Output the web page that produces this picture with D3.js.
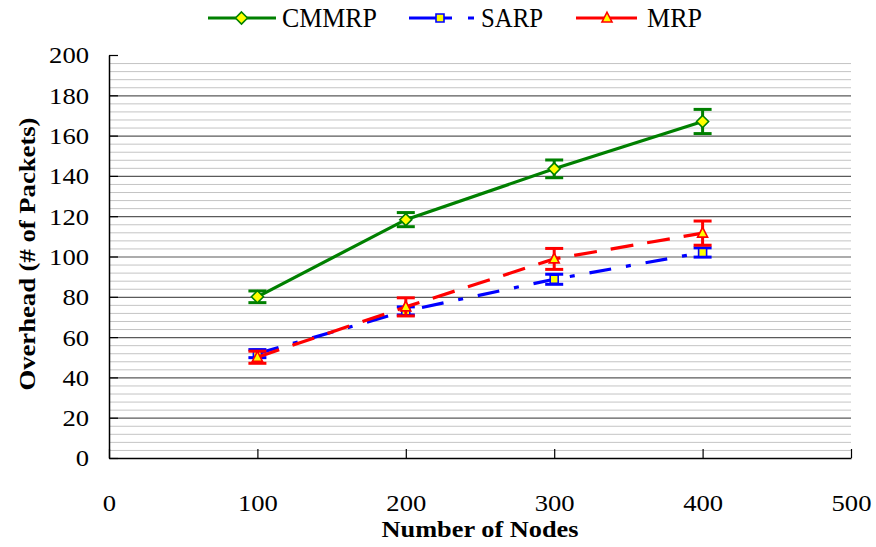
<!DOCTYPE html>
<html>
<head>
<meta charset="utf-8">
<script src="https://cdn.jsdelivr.net/npm/d3@7"></script>
<style>
  html, body { margin: 0; padding: 0; background: #fff; }
  svg { display: block; }
  text { font-family: "Liberation Serif", "Times New Roman", serif; fill: #000; }
</style>
</head>
<body>
<svg id="chart" width="876" height="547"></svg>
<script>
// Overhead vs. number of nodes for three routing protocols
const nodes = [100, 200, 300, 400];
const xTickValues = [0, 100, 200, 300, 400, 500];
const yTickValues = [0, 20, 40, 60, 80, 100, 120, 140, 160, 180, 200];
const yMinorValues = d3.range(0, 200, 4);

const cmmrp    = [80, 118.3, 143.5, 167];
const cmmrpErr = [2.9, 3.5, 4.4, 6];
const sarp     = [51.8, 73, 88.7, 102];
const sarpErr  = [2, 2, 2.5, 2.3];
const mrp      = [50, 75, 98.8, 111.6];
const mrpErr   = [3, 4.5, 5.2, 6];

const seriesNames = ["CMMRP", "SARP", "MRP"];

const svg = d3.select("#chart");
const x = d3.scaleLinear().domain([0, 500]).range([109, 851]);
const y = d3.scaleLinear().domain([0, 200]).range([458, 55]);

// minor grid
svg.append("g").selectAll("line")
  .data(yMinorValues.filter(v => v % 20 !== 0))
  .join("line")
  .attr("x1", x(0)).attr("x2", x(500))
  .attr("y1", d => y(d) + 0.5).attr("y2", d => y(d) + 0.5)
  .attr("stroke", "#c4c4c4").attr("stroke-width", 1);

// major grid
svg.append("g").selectAll("line")
  .data(yTickValues.filter(v => v > 0 && v < 200))
  .join("line")
  .attr("x1", x(0)).attr("x2", x(500))
  .attr("y1", d => y(d) + 0.5).attr("y2", d => y(d) + 0.5)
  .attr("stroke", "#5a5a5a").attr("stroke-width", 1.2);

// axes
const yAxis = d3.axisLeft(y).tickValues(yTickValues).tickSizeInner(-9).tickSizeOuter(0).tickPadding(20);
const yG = svg.append("g").attr("transform", `translate(${x(0)},0)`).call(yAxis);
yG.selectAll("path.domain").attr("stroke", "#000").attr("stroke-width", 1.5);
yG.selectAll(".tick line").attr("stroke", "#000").attr("stroke-width", 1.2);
yG.selectAll(".tick text")
  .attr("font-family", "Liberation Serif").attr("font-size", 24)
  .attr("dy", "0.33em")
  .attr("textLength", d => String(d).length * 13.3)
  .attr("lengthAdjust", "spacingAndGlyphs")
  .attr("fill", "#000");

const xAxis = d3.axisBottom(x).tickValues(xTickValues).tickSizeInner(-9).tickSizeOuter(0);
const xG = svg.append("g").attr("transform", `translate(0,${y(0)})`).call(xAxis);
xG.selectAll("path.domain").attr("stroke", "#000").attr("stroke-width", 1.5);
xG.selectAll(".tick line").attr("stroke", "#000").attr("stroke-width", 1.2);
xG.selectAll(".tick text")
  .attr("font-family", "Liberation Serif").attr("font-size", 24)
  .attr("y", 53).attr("dy", 0)
  .attr("textLength", d => String(d).length * 13.3)
  .attr("lengthAdjust", "spacingAndGlyphs")
  .attr("fill", "#000");

// axis titles
svg.append("text")
  .attr("x", 480).attr("y", 537)
  .attr("text-anchor", "middle")
  .attr("font-size", 23).attr("font-weight", "bold")
  .attr("textLength", 197).attr("lengthAdjust", "spacingAndGlyphs")
  .text("Number of Nodes");

svg.append("text")
  .attr("transform", "translate(35,254) rotate(-90)")
  .attr("text-anchor", "middle")
  .attr("font-size", 24).attr("font-weight", "bold")
  .attr("textLength", 273).attr("lengthAdjust", "spacingAndGlyphs")
  .text("Overhead (# of Packets)");

// marker shapes
function diamondPath(r) { return `M0,${-r}L${r},0L0,${r}L${-r},0Z`; }
function squarePath(r) { return `M${-r},${-r}H${r}V${r}H${-r}Z`; }
function trianglePath(r) { return `M0,${-r * 1.15}L${r},${r * 0.8}L${-r},${r * 0.8}Z`; }

const series = [
  { name: seriesNames[1], values: sarp, err: sarpErr, color: "#0000ff", dash: "22,15,5,15",
    marker: squarePath(4), markerStroke: "#0000ff", legendDash: "43,16,6", legendX: [409, 474], legendM: 440, legendText: 481, legendLen: 62 },
  { name: seriesNames[2], values: mrp, err: mrpErr, color: "#ff0000", dash: "23,14",
    marker: trianglePath(5), markerStroke: "#ff0000", legendDash: null, legendX: [576, 637], legendM: 607, legendText: 647, legendLen: 55 },
  { name: seriesNames[0], values: cmmrp, err: cmmrpErr, color: "#008000", dash: null,
    marker: diamondPath(6), markerStroke: "#008000", legendDash: null, legendX: [208, 276], legendM: 241.5, legendText: 282, legendLen: 95 }
];

const line = d3.line().x((d, i) => x(nodes[i])).y(d => y(d));

series.forEach(s => {
  const g = svg.append("g");
  g.append("path")
    .attr("d", line(s.values))
    .attr("fill", "none")
    .attr("stroke", s.color).attr("stroke-width", 3.2)
    .attr("stroke-dasharray", s.dash);

  // error bars
  const eb = g.append("g").selectAll("g").data(s.values).join("g");
  eb.append("line")
    .attr("x1", (d, i) => x(nodes[i])).attr("x2", (d, i) => x(nodes[i]))
    .attr("y1", (d, i) => y(d - s.err[i])).attr("y2", (d, i) => y(d + s.err[i]))
    .attr("stroke", s.color).attr("stroke-width", 3);
  [-1, 1].forEach(sign => {
    eb.append("line")
      .attr("x1", (d, i) => x(nodes[i]) - 9).attr("x2", (d, i) => x(nodes[i]) + 9)
      .attr("y1", (d, i) => y(d + sign * s.err[i])).attr("y2", (d, i) => y(d + sign * s.err[i]))
      .attr("stroke", s.color).attr("stroke-width", 3);
  });

  // markers
  g.append("g").selectAll("path").data(s.values).join("path")
    .attr("transform", (d, i) => `translate(${x(nodes[i])},${y(d)})`)
    .attr("d", s.marker)
    .attr("fill", "#ffff00")
    .attr("stroke", s.markerStroke).attr("stroke-width", 1.6);

  // legend entry
  const lg = svg.append("g");
  lg.append("line")
    .attr("x1", s.legendX[0]).attr("x2", s.legendX[1])
    .attr("y1", 18).attr("y2", 18)
    .attr("stroke", s.color).attr("stroke-width", 3.2)
    .attr("stroke-dasharray", s.legendDash);
  lg.append("path")
    .attr("transform", `translate(${s.legendM},18)`)
    .attr("d", s.marker)
    .attr("fill", "#ffff00")
    .attr("stroke", s.markerStroke).attr("stroke-width", 1.6);
  lg.append("text")
    .attr("x", s.legendText).attr("y", 27)
    .attr("font-size", 28)
    .attr("textLength", s.legendLen).attr("lengthAdjust", "spacingAndGlyphs")
    .text(s.name);
});
</script>
</body>
</html>
